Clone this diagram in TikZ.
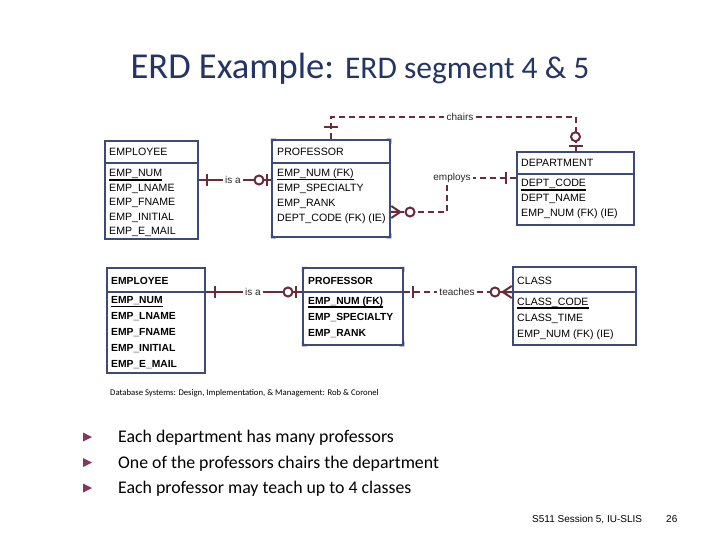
\documentclass[tikz,border=0pt]{standalone}
\usepackage{fontspec}
\setmainfont{Carlito}
\newfontfamily\erdfont{Liberation Sans}
\usetikzlibrary{calc}

\definecolor{boxblue}{HTML}{3D4A7E}
\definecolor{relred}{HTML}{6A2C3A}
\definecolor{titleblue}{HTML}{243465}
\definecolor{bulletred}{HTML}{86365E}

\tikzset{
  entity/.style={draw=boxblue, line width=2.5pt, inner sep=0pt},
  entityline/.style={draw=boxblue, line width=2.5pt},
  attr/.style={anchor=base west, inner sep=0pt, font=\erdfont\fontsize{10.6}{12}\selectfont},
  attrbold/.style={attr, font=\erdfont\bfseries\fontsize{10.3}{12}\selectfont},
  keyline/.style={draw=black, line width=1.2pt},
  rel/.style={draw=relred, line width=2pt},
  reldash/.style={rel, dash pattern=on 6pt off 4pt},
  relmark/.style={draw=relred, line width=2pt},
  rellabel/.style={inner sep=2pt, text=black!85, font=\erdfont\fontsize{10}{12}\selectfont},
  pics/vbar/.style={code={\draw[relmark] (0,-6) -- (0,6);}},
  pics/hbar/.style={code={\draw[relmark] (-7,0) -- (7,0);}},
  pics/ring/.style={code={\draw[relmark, fill=white] (0,0) circle (4.5);}},
  pics/crowleft/.style={code={\draw[relmark] (0,-6) -- (9,0) -- (0,6) (0,0) -- (9,0);}},
  pics/crowright/.style={code={\draw[relmark] (0,-6) -- (-9,0) -- (0,6) (0,0) -- (-9,0);}},
  bullettext/.style={anchor=base west, inner sep=0pt, font=\fontsize{17.8}{20}\selectfont},
}

\begin{document}
\begin{tikzpicture}[x=1pt, y=-1pt]
\useasboundingbox (0,0) rectangle (720,540);

% title
\node[anchor=base, inner sep=0pt, text=titleblue, font=\fontsize{36.5}{42}\selectfont]
  (title) at (360,79) {ERD Example: {\fontsize{31.5}{36}\selectfont ERD segment 4 \& 5}};

% segment 4: employee, professor, department
\node[entity, minimum width=93pt, minimum height=98pt] (empA) at (151.5,190) {};
\draw[entityline] (empA.west |- 0,163) -- (empA.east |- 0,163);
\node[attr] (empA-0) at (109,156) {EMPLOYEE};
\foreach \t [count=\i] in {EMP\_NUM, EMP\_LNAME, EMP\_FNAME, EMP\_INITIAL, EMP\_E\_MAIL}
  \node[attr] (empA-\i) at (109,162.5+14.5*\i) {\t};
\draw[keyline] ([yshift=-3pt]empA-1.base west) -- ([yshift=-3pt]empA-1.base east);

\node[entity, minimum width=118pt, minimum height=97pt] (profA) at (331,188.5) {};
\draw[entityline] (profA.west |- 0,163) -- (profA.east |- 0,163);
\node[attr] (profA-0) at (277,156) {PROFESSOR};
\foreach \t [count=\i] in {EMP\_NUM (FK), EMP\_SPECIALTY, EMP\_RANK, DEPT\_CODE (FK) (IE)}
  \node[attr] (profA-\i) at (277,162+14.8*\i) {\t};
\draw[keyline] ([yshift=-3pt]profA-1.base west) -- ([yshift=-3pt]profA-1.base east);

\node[entity, minimum width=117pt, minimum height=73pt] (deptA) at (575.5,188.5) {};
\draw[entityline] (deptA.west |- 0,174) -- (deptA.east |- 0,174);
\node[attr] (deptA-0) at (521,167) {DEPARTMENT};
\foreach \t [count=\i] in {DEPT\_CODE, DEPT\_NAME, EMP\_NUM (FK) (IE)}
  \node[attr] (deptA-\i) at (521,172.5+14.5*\i) {\t};
\draw[keyline] ([yshift=-3pt]deptA-1.base west) -- ([yshift=-3pt]deptA-1.base east);

% segment 5: employee, professor, class
\node[entity, minimum width=98pt, minimum height=105pt] (empB) at (156,320.5) {};
\draw[entityline] (empB.west |- 0,292) -- (empB.east |- 0,292);
\node[attrbold] (empB-0) at (111,284) {EMPLOYEE};
\foreach \t [count=\i] in {EMP\_NUM, EMP\_LNAME, EMP\_FNAME, EMP\_INITIAL, EMP\_E\_MAIL}
  \node[attrbold] (empB-\i) at (111,288+15.8*\i) {\t};
\draw[keyline] ([yshift=-3pt]empB-1.base west) -- ([yshift=-3pt]empB-1.base east);

\node[entity, minimum width=100pt, minimum height=77pt] (profB) at (353,306.5) {};
\draw[entityline] (profB.west |- 0,292) -- (profB.east |- 0,292);
\node[attrbold] (profB-0) at (308,284) {PROFESSOR};
\foreach \t [count=\i] in {EMP\_NUM (FK), EMP\_SPECIALTY, EMP\_RANK}
  \node[attrbold] (profB-\i) at (308,288+16*\i) {\t};
\draw[keyline] ([yshift=-3pt]profB-1.base west) -- ([yshift=-3pt]profB-1.base east);

\node[entity, minimum width=123pt, minimum height=78pt] (classB) at (574.5,306) {};
\draw[entityline] (classB.west |- 0,292) -- (classB.east |- 0,292);
\node[attr] (classB-0) at (517,284) {CLASS};
\foreach \t [count=\i] in {CLASS\_CODE, CLASS\_TIME, EMP\_NUM (FK) (IE)}
  \node[attr] (classB-\i) at (517,289+16*\i) {\t};
\draw[keyline] ([yshift=-3pt]classB-1.base west) -- ([yshift=-3pt]classB-1.base east);

% notched corners of the weak entities
\foreach \e in {profA, profB}
  \foreach \c/\sx/\sy in {north west/1/1, north east/-1/1, south west/1/-1, south east/-1/-1}
    \fill[boxblue] (\e.\c) -- ++(5*\sx,0) -- ++(-5*\sx,5*\sy) -- cycle;

% is a (upper)
\node[rellabel] (isaA) at (233,180) {is a};
\draw[rel] (empA.east |- isaA) -- (isaA.west);
\draw[rel] (isaA.east) -- (profA.west |- isaA);
\pic at (207,180) {vbar};
\pic at (259,180) {ring};
\pic at (267,180) {vbar};

% chairs
\node[rellabel] (chairs) at (460,117) {chairs};
\draw[reldash] (profA.north) |- (chairs.west);
\draw[reldash] (chairs.east) -| (deptA.north);
\pic at ($(profA.north)+(0,-12)$) {hbar};
\pic at ($(deptA.north)+(0,-14)$) {ring};
\pic at ($(deptA.north)+(0,-5)$) {hbar};

% employs
\node[rellabel] (employs) at (452,178) {employs};
\coordinate (employsbend) at (447,212);
\draw[reldash] (deptA.west |- employs) -- (employs.east);
\draw[reldash] (employs.south -| employsbend) -- (employsbend) -- (profA.east |- employsbend);
\pic at (506,178) {vbar};
\pic at (410,212) {ring};
\pic at (profA.east |- employsbend) {crowleft};

% is a (lower)
\node[rellabel] (isaB) at (253,292) {is a};
\draw[rel] (empB.east |- isaB) -- (isaB.west);
\draw[rel] (isaB.east) -- (profB.west |- isaB);
\pic at (215,292) {vbar};
\pic at (288,292) {ring};
\pic at (296,292) {vbar};

% teaches
\node[rellabel] (teaches) at (457,292) {teaches};
\draw[reldash] (profB.east |- teaches) -- (teaches.west);
\draw[reldash] (teaches.east) -- (classB.west |- teaches);
\pic at (413,292) {vbar};
\pic at (495,292) {ring};
\pic at (classB.west |- teaches) {crowright};

% source
\node[anchor=base west, inner sep=0pt, font=\fontsize{8.7}{10}\selectfont]
  (source) at (110,395) {Database Systems: Design, Implementation, \& Management: Rob \& Coronel};

% bullets
\foreach \t [count=\i] in {Each department has many professors,
    One of the professors chairs the department,
    Each professor may teach up to 4 classes} {
  \pgfmathsetmacro{\by}{437+25.5*(\i-1)}
  \fill[bulletred] (83,\by-4.5) -- (92,\by) -- (83,\by+4.5) -- cycle;
  \node[bullettext] (bullet-\i) at (118,\by+5.5) {\t};
}

% footer
\node[anchor=base west, inner sep=0pt, font=\erdfont\fontsize{10}{12}\selectfont]
  (footer) at (532,522) {S511 Session 5, IU-SLIS};
\node[anchor=base west, inner sep=0pt, font=\erdfont\fontsize{10}{12}\selectfont]
  (pagenum) at (666,522) {26};
\end{tikzpicture}
\end{document}
